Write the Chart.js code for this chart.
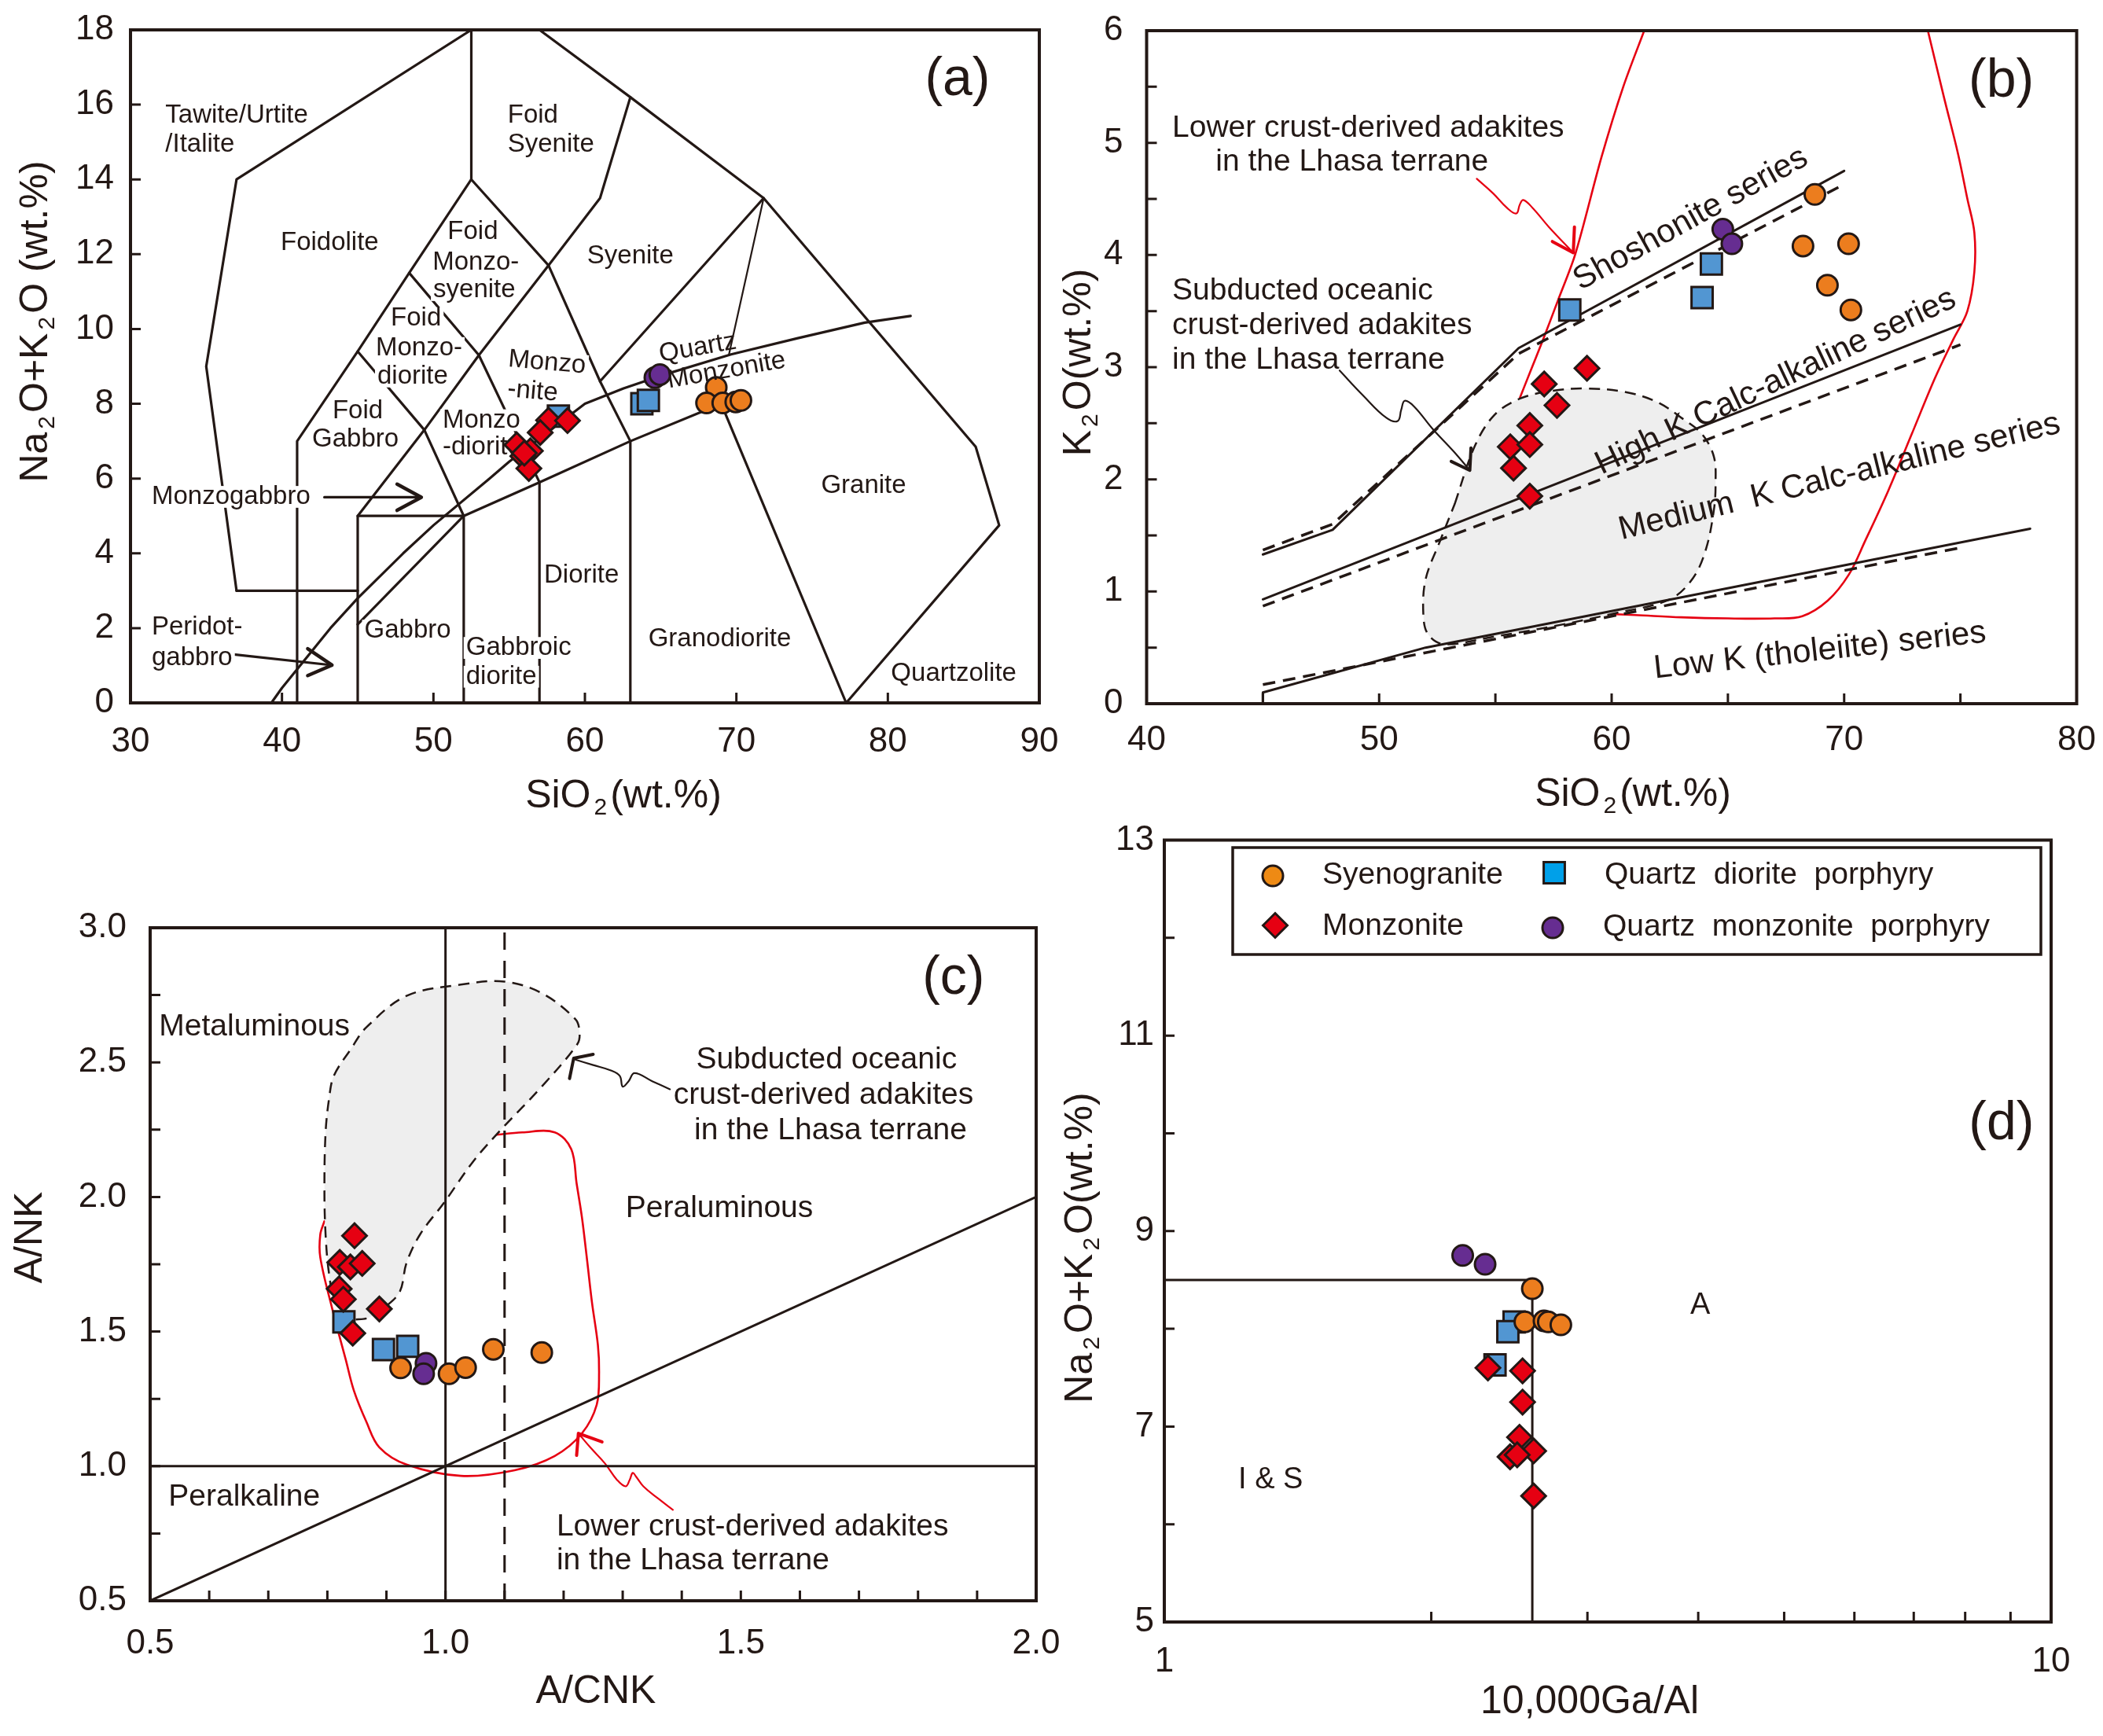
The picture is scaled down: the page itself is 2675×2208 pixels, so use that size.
<!DOCTYPE html>
<html>
<head>
<meta charset="utf-8">
<script src="https://cdn.jsdelivr.net/npm/chart.js@4.4.1/dist/chart.umd.min.js"></script>
<style>
  html, body { margin: 0; padding: 0; background: #fff; }
  #fig { position: relative; width: 2675px; height: 2208px; overflow: hidden; background: #fff; }
  canvas { position: absolute; }
</style>
</head>
<body>
<div id="fig">
  <canvas id="ca"></canvas>
  <canvas id="cb"></canvas>
  <canvas id="cc"></canvas>
  <canvas id="cd"></canvas>
</div>
<script>
const FONT = '"Liberation Sans", Arial, Helvetica, sans-serif';
const INK = '#231815';
const ORANGE = '#EC7D1E', BLUE = '#5296D2', RED = '#E60012', PURPLE = '#662D91', GREY = '#EEEEEE';

// series, drawn top to bottom in this order
const seriesNames = ['Monzonite', 'Syenogranite', 'Quartz monzonite porphyry', 'Quartz diorite porphyry'];

// ---- (a) TAS: SiO2 vs Na2O+K2O
const aMonzonite = [[57.6,7.56],[58.85,7.55],[57.05,7.23],[55.5,6.9],[56.4,6.74],[55.9,6.6],[56.3,6.27],[56.0,6.68]];
const aSyenogranite = [[68.67,8.44],[68.03,8.02],[69.1,8.02],[69.96,8.05],[70.3,8.09]];
const aQtzMonzonite = [[64.62,8.7],[64.95,8.78]];
const aQtzDiorite = [[63.76,8.0],[64.19,8.09],[58.25,7.67]];

// TAS field boundaries (Middlemost 1994)
const tasOuter = [[37,3],[35,9],[37,14],[52.5,18]];
const tasLow = [[37,3],[45,3]];
const tasFoid = [[41,0],[41,7],[45,9.4],[48.4,11.5],[52.5,14],[52.5,18]];
const tasGabbro = [[45,0],[45,5],[52,5],[52,0]];
const tasMonzo = [[45,5],[49.4,7.3],[53,9.3],[57.6,11.7],[61,13.5],[63,16.2],[57,18]];
const tasDiorite = [[48.4,11.5],[53,9.3],[57,5.9],[57,0]];
const tasFoidMonzo = [[45,9.4],[49.4,7.3],[52,5]];
const tasSyenite = [[52.5,14],[57.6,11.7],[61,8.6],[63,7],[63,0]];
const tasQtzMonz = [[61,8.6],[71.8,13.5],[63,16.2]];
const tasGranite = [[45,2.1],[52,5],[57,5.9],[63,7],[69,8],[77.25,0]];
const tasQtzGranite = [[71.8,13.5],[69.5,9.3]];
const tasQuartzolite = [[71.8,13.5],[85.8,6.85],[87.35,4.75],[77.25,0]];
const tasIrvine = [[39.3,0],[40,0.4],[43.2,2],[45,2.8],[48,4],[50,4.75],[53.7,6],[55,6.45],[60,8],[62.55,8.41],[65,8.75],[69.65,9.32],[74,9.75],[78.47,10.17],[81.5,10.35]];
const arrowMonzogabbro = [[42.8,5.5],[49.2,5.5]];
const arrowMonzogabbroHead = [[47.6,5.85],[49.2,5.5],[47.6,5.15]];
const arrowPeridot = [[36.7,1.3],[43.3,1.01]];
const arrowPeridotHead = [[41.7,1.45],[43.3,1.01],[41.7,0.73]];

// ---- (b) SiO2 vs K2O
const bMonzonite = [[58.94,2.99],[57.1,2.85],[57.65,2.66],[56.48,2.48],[55.64,2.29],[56.48,2.31],[55.78,2.10],[56.48,1.85]];
const bSyenogranite = [[68.74,4.54],[68.23,4.08],[70.19,4.10],[69.28,3.73],[70.29,3.51]];
const bQtzMonzonite = [[64.78,4.23],[65.17,4.10]];
const bQtzDiorite = [[58.2,3.51],[64.29,3.92],[63.89,3.62]];

const shoSolid = [[45,1.33],[48,1.55],[56,3.17],[70,4.75]];
const shoDash = [[45,1.37],[48,1.6],[56,3.12],[70,4.63]];
const hkSolid = [[45,0.93],[75,3.38]];
const hkDash = [[45,0.87],[75,3.2]];
const lkSolid = [[45,0],[45,0.1],[52,0.5],[78,1.56]];
const lkDash = [[45,0.17],[75,1.39]];
const bAdakiteOcean = [[53.25,1.78],[54.1,2.29],[54.94,2.57],[56.06,2.72],[57.46,2.79],[58.87,2.81],[60.55,2.78],[61.95,2.69],[63.06,2.54],[63.9,2.4],[64.4,2.2],[64.47,1.96],[64.4,1.73],[64.06,1.38],[63.5,1.12],[62.5,0.93],[60,0.8],[57.5,0.69],[55,0.6],[52.8,0.53],[52.1,0.62],[51.9,0.8],[52,1.11],[52.6,1.44],[53.25,1.78]];
const bAdakiteCrustA = [[61.4,6.0],[60.5,5.5],[59.56,4.87],[58.44,4.01],[57.7,3.6],[57.04,3.24],[56.5,2.96],[56.06,2.73]];
const bAdakiteCrustB = [[59.8,0.8],[61,0.79],[63,0.77],[65,0.76],[67,0.76],[68.2,0.78],[69.3,0.92],[70.2,1.15],[70.9,1.45],[71.9,1.9],[72.9,2.4],[73.9,2.9],[74.7,3.25],[75.3,3.5],[75.6,3.85],[75.6,4.2],[75.3,4.5],[74.9,4.9],[74.3,5.4],[73.6,6.0]];
const bArrowOcean = [[48.3,2.97],[49.3,2.75],[50.3,2.55],[50.8,2.52],[50.95,2.62],[51.1,2.7],[51.5,2.65],[52.3,2.45],[53.2,2.25],[53.9,2.08]];
const bArrowOceanHead = [[53.1,2.16],[53.9,2.08],[53.95,2.28]];
const bArrowCrust = [[54.2,4.68],[54.9,4.55],[55.5,4.42],[55.9,4.37],[56.05,4.45],[56.2,4.49],[56.6,4.42],[57.3,4.25],[58.35,4.02]];
const bArrowCrustHead = [[57.45,4.12],[58.35,4.02],[58.4,4.25]];

// ---- (c) A/CNK vs A/NK
const cMonzonite = [[0.846,1.856],[0.821,1.757],[0.839,1.74],[0.859,1.753],[0.82,1.659],[0.827,1.62],[0.888,1.584],[0.843,1.494]];
const cSyenogranite = [[0.924,1.365],[1.006,1.343],[1.034,1.366],[1.081,1.434],[1.163,1.422]];
const cQtzMonzonite = [[0.967,1.382],[0.963,1.343]];
const cQtzDiorite = [[0.828,1.536],[0.895,1.433],[0.936,1.445]];

const cLineCNK = [[1,0.5],[1,3]];
const cLineCNK11 = [[1.1,0.5],[1.1,3]];
const cLineNK = [[0.5,1],[2,1]];
const cLineEqual = [[0.5,0.5],[2,2]];
const cAdakiteOcean = [[0.843,1.544],[0.814,1.608],[0.803,1.713],[0.797,1.86],[0.795,2.03],[0.797,2.24],[0.803,2.367],[0.811,2.45],[0.84,2.55],[0.866,2.63],[0.934,2.747],[1.026,2.789],[1.10,2.80],[1.163,2.757],[1.22,2.66],[1.227,2.61],[1.223,2.567],[1.163,2.41],[1.094,2.25],[1.048,2.135],[0.997,1.977],[0.957,1.861],[0.934,1.755],[0.923,1.65],[0.90,1.595],[0.871,1.552],[0.843,1.544]];
const cAdakiteCrust = [[1.083,2.23],[1.13,2.24],[1.185,2.24],[1.213,2.177],[1.222,2.05],[1.231,1.924],[1.24,1.76],[1.248,1.608],[1.258,1.45],[1.26,1.35],[1.256,1.228],[1.231,1.122],[1.185,1.038],[1.117,0.985],[1.026,0.964],[0.934,1.006],[0.888,1.07],[0.866,1.165],[0.845,1.28],[0.831,1.397],[0.808,1.587],[0.788,1.776],[0.788,1.86],[0.795,1.91]];
const cArrowOcean = [[1.38,2.4],[1.35,2.43],[1.32,2.46],[1.31,2.43],[1.30,2.41],[1.295,2.45],[1.28,2.47],[1.25,2.49],[1.22,2.51]];
const cArrowOceanHead = [[1.21,2.44],[1.217,2.515],[1.25,2.53]];
const cArrowCrust = [[1.385,0.838],[1.36,0.88],[1.335,0.925],[1.323,0.96],[1.317,0.975],[1.312,0.95],[1.305,0.925],[1.29,0.95],[1.27,1.01],[1.245,1.07],[1.225,1.122]];
const cArrowCrustHead = [[1.222,1.04],[1.225,1.122],[1.265,1.09]];

// ---- (d) 10000Ga/Al vs Na2O+K2O
const dMonzonite = [[2.317,7.60],[2.535,7.57],[2.535,7.25],[2.515,6.89],[2.609,6.75],[2.454,6.69],[2.50,6.71],[2.609,6.29]];
const dSyenogranite = [[2.60,8.41],[2.55,8.07],[2.68,8.08],[2.71,8.07],[2.80,8.04]];
const dQtzMonzonite = [[2.17,8.75],[2.30,8.66]];
const dQtzDiorite = [[2.48,8.07],[2.44,7.97],[2.36,7.63]];
const dBoundary = [[1,8.5],[2.6,8.5],[2.6,5]];

// ---------------------------------------------------------------
const MARK = {
  'Syenogranite': { pointStyle: 'circle', radius: 13, color: ORANGE, legend: '#EE8A14' },
  'Monzonite': { pointStyle: 'rectRot', radius: 15.5, color: RED, legend: RED },
  'Quartz diorite porphyry': { pointStyle: 'rect', radius: 19, color: BLUE, legend: '#00A0E9' },
  'Quartz monzonite porphyry': { pointStyle: 'circle', radius: 13, color: PURPLE, legend: PURPLE }
};

function xy(arr) { return arr.map(p => ({ x: p[0], y: p[1] })); }

function pointSets(groups) {
  return groups.map((g, i) => {
    const m = MARK[seriesNames[i]];
    return {
      label: seriesNames[i], data: xy(g), showLine: false,
      pointStyle: m.pointStyle, pointRadius: m.radius, pointHoverRadius: m.radius,
      pointBackgroundColor: m.color, pointBorderColor: INK,
      pointBorderWidth: 3, pointHoverBorderWidth: 3
    };
  });
}

function lineSet(data, opt) {
  opt = opt || {};
  return {
    type: 'line', data: xy(data), showLine: true,
    borderColor: opt.color || INK, borderWidth: opt.width || 3.2,
    borderDash: opt.dash || [], borderJoinStyle: 'round',
    borderCapStyle: opt.dash ? 'butt' : 'round',
    pointRadius: 0, pointHoverRadius: 0, pointHitRadius: 0,
    tension: opt.tension || 0,
    fill: opt.fill ? 'shape' : false,
    backgroundColor: opt.fill || 'rgba(0,0,0,0)'
  };
}

const DECO = {};

function drawLabels(chart, list, d) {
  const ctx = chart.ctx, xs = chart.scales.x, ys = chart.scales.y;
  list.forEach(l => {
    const size = l.size || d.fontSize;
    ctx.save();
    ctx.translate(xs.getPixelForValue(l.x), ys.getPixelForValue(l.y));
    if (l.rot) ctx.rotate(l.rot * Math.PI / 180);
    ctx.font = size + 'px ' + FONT;
    ctx.textBaseline = 'middle';
    ctx.textAlign = l.align || 'center';
    const w = ctx.measureText(l.t).width;
    if (l.bg) {
      const x0 = l.align === 'left' ? 0 : -w / 2;
      ctx.fillStyle = '#fff';
      ctx.fillRect(x0 - 3, -size * 0.42, w + 6, size * 0.84);
    }
    ctx.fillStyle = l.color || INK;
    ctx.fillText(l.t, 0, 0);
    ctx.restore();
  });
}

function drawTitle(ctx, t, ox, oy) {
  const size = 50, sub = 30;
  ctx.save();
  ctx.translate(t.x - ox, t.y - oy);
  if (t.rot) ctx.rotate(t.rot * Math.PI / 180);
  ctx.textBaseline = 'middle';
  ctx.textAlign = 'left';
  ctx.fillStyle = INK;
  let total = 0;
  const widths = t.parts.map(([s, isSub]) => {
    ctx.font = (isSub ? sub : size) + 'px ' + FONT;
    const w = ctx.measureText(s).width + (isSub ? 8 : 0);
    total += w;
    return w;
  });
  let x = -total / 2;
  t.parts.forEach(([s, isSub], i) => {
    ctx.font = (isSub ? sub : size) + 'px ' + FONT;
    ctx.fillText(s, x + (isSub ? 4 : 0), isSub ? size * 0.3 : 0);
    x += widths[i];
  });
  ctx.restore();
}

const decoPlugin = {
  id: 'deco',
  afterDatasetDraw(chart, args) {
    const d = DECO[chart.canvas.id];
    if (d && d.labelIndex === args.index) drawLabels(chart, d.labels.filter(l => l.bg), d);
  },
  afterDatasetsDraw(chart) {
    const d = DECO[chart.canvas.id];
    if (!d) return;
    drawLabels(chart, d.labelIndex === undefined ? d.labels : d.labels.filter(l => !l.bg), d);
  },
  afterDraw(chart) {
    const d = DECO[chart.canvas.id];
    if (!d) return;
    const ctx = chart.ctx, a = chart.chartArea, xs = chart.scales.x, ys = chart.scales.y;
    ctx.save();
    ctx.strokeStyle = INK;
    ctx.lineWidth = 4;
    ctx.strokeRect(a.left, a.top, a.right - a.left, a.bottom - a.top);
    ctx.lineWidth = 3;
    ctx.beginPath();
    d.xTicks.forEach(v => {
      const px = xs.getPixelForValue(v);
      ctx.moveTo(px, a.bottom); ctx.lineTo(px, a.bottom - 13);
    });
    d.yTicks.forEach(v => {
      const py = ys.getPixelForValue(v);
      ctx.moveTo(a.left, py); ctx.lineTo(a.left + 13, py);
    });
    ctx.stroke();
    d.titles.forEach(t => drawTitle(ctx, t, d.box.x, d.box.y));
    if (d.legend) {
      const L = d.legend, ox = d.box.x, oy = d.box.y;
      ctx.lineWidth = 3.5;
      ctx.strokeRect(L.x0 - ox, L.y0 - oy, L.x1 - L.x0, L.y1 - L.y0);
      L.items.forEach(it => {
        const m = MARK[it.name];
        ctx.fillStyle = m.legend;
        ctx.strokeStyle = INK;
        ctx.lineWidth = 3;
        Chart.helpers.drawPoint(ctx, { pointStyle: m.pointStyle, radius: m.radius, borderWidth: 3, rotation: 0 }, it.mx - ox, it.my - oy);
        ctx.fillStyle = INK;
        ctx.font = '39px ' + FONT;
        ctx.textAlign = 'left';
        ctx.textBaseline = 'middle';
        ctx.fillText(it.text, it.tx - ox, it.ty - oy);
      });
    }
    ctx.restore();
  }
};

function noPad(s) { s.paddingLeft = 0; s.paddingRight = 0; s.paddingTop = 0; s.paddingBottom = 0; }

function makePanel(id, cfg) {
  const cv = document.getElementById(id);
  const b = cfg.box, p = cfg.plot;
  cv.width = b.w; cv.height = b.h;
  cv.style.left = b.x + 'px'; cv.style.top = b.y + 'px';
  cv.style.width = b.w + 'px'; cv.style.height = b.h + 'px';
  const padL = 8, xH = 90;
  const yW = p.l - b.x - padL;
  const tickFont = { family: FONT, size: 44 };
  DECO[id] = cfg.deco;
  DECO[id].box = b;
  const xOpt = Object.assign({
    position: 'bottom',
    grid: { display: false, drawTicks: false },
    border: { display: false },
    afterFit: s => { s.height = xH; noPad(s); }
  }, cfg.x);
  xOpt.ticks = Object.assign({ color: INK, font: tickFont, autoSkip: false, maxRotation: 0, minRotation: 0 }, cfg.x.ticks);
  const yOpt = Object.assign({
    position: 'left',
    grid: { display: false, drawTicks: false },
    border: { display: false },
    afterFit: s => { s.width = yW; noPad(s); }
  }, cfg.y);
  yOpt.ticks = Object.assign({ color: INK, font: tickFont, autoSkip: false }, cfg.y.ticks);
  return new Chart(cv, {
    type: 'scatter',
    data: { datasets: cfg.datasets },
    options: {
      responsive: false, animation: false, devicePixelRatio: 1, events: [],
      layout: { padding: { left: padL, right: b.x + b.w - p.r, top: p.t - b.y, bottom: b.y + b.h - p.b - xH } },
      scales: { x: xOpt, y: yOpt },
      plugins: { legend: { display: false }, tooltip: { enabled: false } }
    },
    plugins: [decoPlugin]
  });
}

function range(a, b, s) { const r = []; for (let v = a; v <= b + 1e-9; v += s) r.push(+v.toFixed(4)); return r; }

// ---------------- panel (a)
makePanel('ca', {
  box: { x: 0, y: 0, w: 1400, h: 1105 },
  plot: { l: 166, t: 38, r: 1322, b: 894 },
  x: { type: 'linear', min: 30, max: 90, ticks: { stepSize: 10, padding: 23 } },
  y: { type: 'linear', min: 0, max: 18, ticks: { stepSize: 2, padding: 21 } },
  datasets: pointSets([aMonzonite, aSyenogranite, aQtzMonzonite, aQtzDiorite]).concat([
    lineSet(tasOuter), lineSet(tasLow), lineSet(tasFoid), lineSet(tasGabbro), lineSet(tasMonzo),
    lineSet(tasDiorite), lineSet(tasFoidMonzo), lineSet(tasSyenite), lineSet(tasQtzMonz),
    lineSet(tasGranite), lineSet(tasQtzGranite, { width: 2.2 }), lineSet(tasQuartzolite),
    lineSet(tasIrvine), lineSet(arrowMonzogabbro), lineSet(arrowMonzogabbroHead, { width: 4.5 }),
    lineSet(arrowPeridot), lineSet(arrowPeridotHead, { width: 4.5 })
  ]),
  deco: {
    labelIndex: 4, fontSize: 33,
    xTicks: [40, 50, 60, 70, 80], yTicks: range(2, 16, 2),
    titles: [
      { parts: [['SiO', 0], ['2', 1], ['(wt.%)', 0]], x: 793, y: 1013 },
      { parts: [['Na', 0], ['2', 1], ['O+K', 0], ['2', 1], ['O (wt.%)', 0]], x: 46, y: 409, rot: -90 }
    ],
    labels: [
      { t: 'Tawite/Urtite', x: 32.3, y: 15.7, align: 'left', bg: true },
      { t: '/Italite', x: 32.3, y: 14.93, align: 'left', bg: true },
      { t: 'Foidolite', x: 43.15, y: 12.3, bg: true },
      { t: 'Foid', x: 54.9, y: 15.7, align: 'left', bg: true },
      { t: 'Syenite', x: 54.9, y: 14.93, align: 'left', bg: true },
      { t: 'Foid', x: 52.6, y: 12.6, bg: true },
      { t: 'Monzo-', x: 52.8, y: 11.78, bg: true },
      { t: 'syenite', x: 52.7, y: 11.04, bg: true },
      { t: 'Foid', x: 48.85, y: 10.29, bg: true },
      { t: 'Monzo-', x: 49.05, y: 9.49, bg: true },
      { t: 'diorite', x: 48.63, y: 8.73, bg: true },
      { t: 'Syenite', x: 63.0, y: 11.95, bg: true },
      { t: 'Monzo', x: 57.5, y: 9.1, rot: 5, bg: true },
      { t: '-nite', x: 56.55, y: 8.33, rot: 5, bg: true },
      { t: 'Quartz', x: 67.45, y: 9.49, rot: -10 },
      { t: 'Monzonite', x: 69.35, y: 8.89, rot: -10 },
      { t: 'Foid', x: 45.0, y: 7.81, bg: true },
      { t: 'Gabbro', x: 44.85, y: 7.04, bg: true },
      { t: 'Monzo', x: 50.6, y: 7.56, align: 'left', bg: true },
      { t: '-diorite', x: 50.6, y: 6.83, align: 'left', bg: true },
      { t: 'Monzogabbro', x: 31.4, y: 5.51, align: 'left', bg: true },
      { t: 'Peridot-', x: 31.4, y: 2.02, align: 'left', bg: true },
      { t: 'gabbro', x: 31.4, y: 1.2, align: 'left', bg: true },
      { t: 'Gabbro', x: 48.3, y: 1.93, bg: true },
      { t: 'Gabbroic', x: 52.15, y: 1.47, align: 'left', bg: true },
      { t: 'diorite', x: 52.15, y: 0.7, align: 'left', bg: true },
      { t: 'Diorite', x: 57.3, y: 3.41, align: 'left', bg: true },
      { t: 'Granodiorite', x: 68.9, y: 1.7, bg: true },
      { t: 'Granite', x: 78.4, y: 5.8, bg: true },
      { t: 'Quartzolite', x: 84.35, y: 0.79, bg: true },
      { t: '(a)', x: 84.6, y: 16.65, size: 68 }
    ]
  }
});

// ---------------- panel (b)
makePanel('cb', {
  box: { x: 1340, y: 0, w: 1335, h: 1105 },
  plot: { l: 1458.5, t: 39, r: 2641.5, b: 895 },
  x: { type: 'linear', min: 40, max: 80, ticks: { stepSize: 10, padding: 20 } },
  y: { type: 'linear', min: 0, max: 6, ticks: { stepSize: 1, padding: 30 } },
  datasets: pointSets([bMonzonite, bSyenogranite, bQtzMonzonite, bQtzDiorite]).concat([
    lineSet(shoSolid, { width: 3 }), lineSet(shoDash, { width: 3.5, dash: [16, 10] }),
    lineSet(hkSolid, { width: 3 }), lineSet(hkDash, { width: 3.5, dash: [16, 10] }),
    lineSet(lkSolid, { width: 3 }), lineSet(lkDash, { width: 3.5, dash: [16, 10] }),
    lineSet(bArrowOcean, { width: 2.2, tension: 0.4 }), lineSet(bArrowOceanHead, { width: 4 }),
    lineSet(bAdakiteOcean, { width: 2.5, dash: [14, 9], tension: 0.35, fill: GREY }),
    lineSet(bAdakiteCrustA, { color: RED, width: 2.6, tension: 0.3 }),
    lineSet(bAdakiteCrustB, { color: RED, width: 2.6, tension: 0.35 }),
    lineSet(bArrowCrust, { color: RED, width: 2.2, tension: 0.4 }),
    lineSet(bArrowCrustHead, { color: RED, width: 4 })
  ]),
  deco: {
    fontSize: 39,
    xTicks: [45, 50, 55, 60, 65, 70, 75], yTicks: range(0.5, 5.5, 0.5),
    titles: [
      { parts: [['SiO', 0], ['2', 1], ['(wt.%)', 0]], x: 2077, y: 1011 },
      { parts: [['K', 0], ['2', 1], ['O(wt.%)', 0]], x: 1373, y: 461, rot: -90 }
    ],
    labels: [
      { t: 'Lower crust-derived adakites', x: 41.1, y: 5.13, align: 'left' },
      { t: 'in the Lhasa terrane', x: 42.97, y: 4.83, align: 'left' },
      { t: 'Subducted oceanic', x: 41.1, y: 3.68, align: 'left' },
      { t: 'crust-derived adakites', x: 41.1, y: 3.37, align: 'left' },
      { t: 'in the Lhasa terrane', x: 41.1, y: 3.06, align: 'left' },
      { t: '(b)', x: 76.76, y: 5.54, size: 68 },
      { t: 'Shoshonite series', x: 63.4, y: 4.32, rot: -29, size: 42 },
      { t: 'High K Calc-alkaline series', x: 67.06, y: 2.87, rot: -25.4, size: 42 },
      { t: 'Medium  K Calc-alkaline series', x: 69.8, y: 2.02, rot: -13.7, size: 42 },
      { t: 'Low K (tholeiite) series', x: 68.96, y: 0.47, rot: -6.2, size: 42 }
    ]
  }
});

// ---------------- panel (c)
makePanel('cc', {
  box: { x: 0, y: 1100, w: 1400, h: 1108 },
  plot: { l: 191, t: 1180, r: 1318, b: 2036 },
  x: { type: 'linear', min: 0.5, max: 2.0, ticks: { stepSize: 0.5, padding: 28, callback: v => v.toFixed(1) } },
  y: { type: 'linear', min: 0.5, max: 3.0, ticks: { stepSize: 0.5, padding: 30, callback: v => v.toFixed(1) } },
  datasets: pointSets([cMonzonite, cSyenogranite, cQtzMonzonite, cQtzDiorite]).concat([
    lineSet(cLineCNK, { width: 3 }), lineSet(cLineCNK11, { width: 3, dash: [22, 14] }),
    lineSet(cLineNK, { width: 3 }), lineSet(cLineEqual, { width: 3 }),
    lineSet(cArrowOcean, { width: 2.2, tension: 0.4 }), lineSet(cArrowOceanHead, { width: 4 }),
    lineSet(cAdakiteOcean, { width: 2.5, dash: [14, 9], tension: 0.35, fill: GREY }),
    lineSet(cAdakiteCrust, { color: RED, width: 2.6, tension: 0.35 }),
    lineSet(cArrowCrust, { color: RED, width: 2.2, tension: 0.4 }),
    lineSet(cArrowCrustHead, { color: RED, width: 4 })
  ]),
  deco: {
    fontSize: 39,
    xTicks: range(0.6, 1.9, 0.1), yTicks: range(0.75, 2.75, 0.25),
    titles: [
      { parts: [['A/CNK', 0]], x: 758, y: 2152 },
      { parts: [['A/NK', 0]], x: 39, y: 1574, rot: -90 }
    ],
    labels: [
      { t: 'Metaluminous', x: 0.515, y: 2.63, align: 'left' },
      { t: 'Peraluminous', x: 1.305, y: 1.956, align: 'left' },
      { t: 'Peralkaline', x: 0.531, y: 0.884, align: 'left' },
      { t: 'Subducted oceanic', x: 1.645, y: 2.508 },
      { t: 'crust-derived adakites', x: 1.64, y: 2.378 },
      { t: 'in the Lhasa terrane', x: 1.652, y: 2.247 },
      { t: 'Lower crust-derived adakites', x: 1.188, y: 0.774, align: 'left' },
      { t: 'in the Lhasa terrane', x: 1.188, y: 0.648, align: 'left' },
      { t: '(c)', x: 1.86, y: 2.81, size: 68 }
    ]
  }
});

// ---------------- panel (d)
makePanel('cd', {
  box: { x: 1340, y: 1030, w: 1335, h: 1178 },
  plot: { l: 1481, t: 1068.5, r: 2609, b: 2063 },
  x: { type: 'logarithmic', min: 1, max: 10, ticks: { padding: 24, callback: v => (v === 1 || v === 10) ? String(v) : '' } },
  y: { type: 'linear', min: 5, max: 13, ticks: { stepSize: 2, padding: 13 } },
  datasets: pointSets([dMonzonite, dSyenogranite, dQtzMonzonite, dQtzDiorite]).concat([
    lineSet(dBoundary, { width: 3 })
  ]),
  deco: {
    fontSize: 38,
    xTicks: [2, 3, 4, 5, 6, 7, 8, 9], yTicks: [6, 7, 8, 9, 10, 11, 12],
    titles: [
      { parts: [['10,000Ga/Al', 0]], x: 2022, y: 2165 },
      { parts: [['Na', 0], ['2', 1], ['O+K', 0], ['2', 1], ['O(wt.%)', 0]], x: 1375, y: 1587, rot: -90 }
    ],
    labels: [
      { t: 'A', x: 4.02, y: 8.24 },
      { t: 'I & S', x: 1.318, y: 6.455 },
      { t: '(d)', x: 8.79, y: 10.09, size: 68 }
    ],
    legend: {
      x0: 1568, y0: 1078, x1: 2596, y1: 1214,
      items: [
        { name: 'Syenogranite', text: 'Syenogranite', mx: 1619, my: 1114, tx: 1682, ty: 1113 },
        { name: 'Quartz diorite porphyry', text: 'Quartz  diorite  porphyry', mx: 1977, my: 1110, tx: 2041, ty: 1113 },
        { name: 'Monzonite', text: 'Monzonite', mx: 1622, my: 1177, tx: 1682, ty: 1178 },
        { name: 'Quartz monzonite porphyry', text: 'Quartz  monzonite  porphyry', mx: 1975, my: 1180, tx: 2039, ty: 1179 }
      ]
    }
  }
});
</script>
</body>
</html>
